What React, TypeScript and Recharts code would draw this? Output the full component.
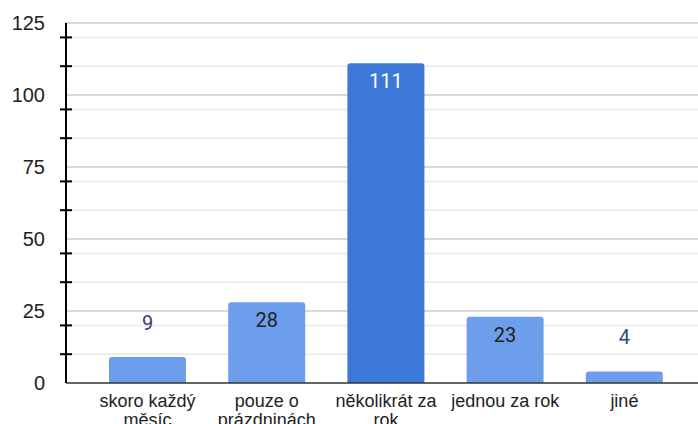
import { BarChart, Bar, XAxis, YAxis, CartesianGrid, Cell, LabelList, Text } from 'recharts';

const categories = ['skoro každý měsíc', 'pouze o prázdninách', 'několikrát za rok', 'jednou za rok', 'jiné'];
const counts = [9, 28, 111, 23, 4];
const majorTicks = [0, 25, 50, 75, 100, 125];
const minorTicks = [10, 20, 35, 45, 60, 70, 85, 95, 110, 120];

const data = categories.map((name, i) => ({ name, value: counts[i] }));

const LIGHT = '#6d9eeb';
const DARK = '#3c78d8';
const barColor = (v: number) => (v === Math.max(...counts) ? DARK : LIGHT);

const axisFont = 'Liberation Sans, Arial, sans-serif';

const YTick = (props: any) => {
  const { x, y, payload } = props;
  if (majorTicks.includes(payload.value)) {
    return (
      <text x={x - 21} y={y} textAnchor="end" dominantBaseline="central" fontSize={20} fill="#222" fontFamily={axisFont}>
        {payload.value}
      </text>
    );
  }
  return <line x1={x - 6} x2={x + 6} y1={y} y2={y} stroke="#000" strokeWidth={2} />;
};

const XTick = (props: any) => {
  const { x, y, payload } = props;
  return (
    <Text
      x={x}
      y={y + 11}
      width={114}
      textAnchor="middle"
      verticalAnchor="start"
      lineHeight={19}
      fill="#222"
      style={{ fontSize: 18, fontFamily: axisFont }}
    >
      {payload.value}
    </Text>
  );
};

const ValueLabel = (props: any) => {
  const { x, y, width, value } = props;
  const cx = x + width / 2;
  let cy = y + 18;
  let fill = '#222';
  if (value < 10) {
    cy = y - 34;
    fill = value === 9 ? '#3d3a6b' : '#274e7a';
  } else if (barColor(value) === DARK) {
    fill = '#fff';
  }
  return (
    <text x={cx} y={cy} textAnchor="middle" dominantBaseline="central" fontSize={20} fill={fill} fontFamily="Roboto, sans-serif">
      {value}
    </text>
  );
};

export default function App() {
  return (
    <div style={{ position: 'absolute', left: 0, top: 0, background: '#fff' }}>
      <BarChart width={698} height={424} data={data} margin={{ top: 23, right: 0, left: 0, bottom: 0 }}>
        <CartesianGrid vertical={false} horizontalValues={minorTicks} stroke="#e8e8e8" strokeWidth={1.5} />
        <CartesianGrid vertical={false} horizontalValues={majorTicks.slice(1)} stroke="#cccccc" strokeWidth={1.5} />
        <XAxis
          dataKey="name"
          height={41}
          padding={{ left: 22, right: 14 }}
          tickLine={false}
          tickSize={0}
          tickMargin={0}
          axisLine={{ stroke: '#333', strokeWidth: 1.5 }}
          tick={<XTick />}
          interval={0}
        />
        <YAxis
          width={66}
          domain={[0, 125]}
          ticks={[...majorTicks, ...minorTicks].sort((a, b) => a - b)}
          interval={0}
          tickLine={false}
          tickSize={0}
          tickMargin={0}
          axisLine={{ stroke: '#000', strokeWidth: 2 }}
          tick={<YTick />}
        />
        <Bar dataKey="value" barSize={77} radius={[3, 3, 0, 0]} isAnimationActive={false}>
          {data.map((d, i) => (
            <Cell key={i} fill={barColor(d.value)} />
          ))}
          <LabelList dataKey="value" content={<ValueLabel />} />
        </Bar>
      </BarChart>
    </div>
  );
}
